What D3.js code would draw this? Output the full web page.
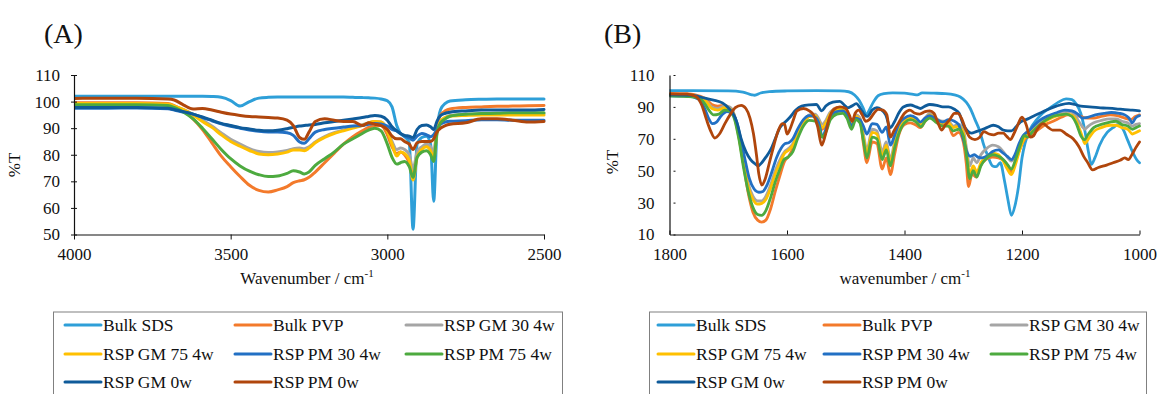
<!DOCTYPE html>
<html>
<head>
<meta charset="utf-8">
<script src="https://cdn.jsdelivr.net/npm/d3@7"></script>
<style>
  body { margin: 0; background: #fff; }
  svg { display: block; font-family: "Liberation Serif", "Times New Roman", serif; }
</style>
</head>
<body>
<svg id="chart" width="1158" height="394"></svg>
<script>
// ---------- series labels and colours ----------
const seriesNames = ["Bulk SDS", "Bulk PVP", "RSP GM 30 4w", "RSP GM 75 4w",
                     "RSP PM 30 4w", "RSP PM 75 4w", "RSP GM 0w", "RSP PM 0w"];
const seriesColors = ["#2E9FD8", "#F37A2B", "#A5A5A5", "#FFC000",
                      "#2270C4", "#4DAA3F", "#0F5B9A", "#B0460C"];

// ---------- panel A: 4000–2500 cm-1 (shared wavenumber grid) ----------
const wnA = [4000, 3900, 3800, 3700, 3680, 3650, 3620, 3590, 3560, 3530,
             3500, 3470, 3440, 3410, 3380, 3350, 3320, 3300, 3280, 3265,
             3250, 3230, 3200, 3170, 3140, 3110, 3080, 3060, 3040, 3020,
             3000, 2985, 2970, 2958, 2945, 2930, 2918, 2905, 2890, 2875,
             2862, 2852, 2842, 2830, 2815, 2800, 2750, 2700, 2650, 2600,
             2550, 2500];
const sdsA  = [102, 102, 102, 102, 102, 102, 102, 102, 101.9, 101.6,
               100.4, 98.3, 100, 101.3, 101.6, 101.7, 101.7, 101.7, 101.7, 101.7,
               101.7, 101.7, 101.7, 101.7, 101.7, 101.6, 101.5, 101.4, 101.3, 101,
               100.3, 98, 91, 88, 86.8, 84.5, 52, 84, 86.5, 87,
               84, 62.5, 88, 97, 99.3, 100.2, 100.7, 100.9, 101, 101,
               101, 101];
const pvpA  = [99.6, 99.6, 99.6, 99.3, 98.5, 96.5, 93.5, 89.5, 84.5, 79.5,
               75.5, 71.8, 68.5, 66.6, 66.0, 66.8, 68.0, 69.5, 70.2, 70.6,
               71.5, 73.5, 77.0, 80.5, 84.0, 86.8, 89.0, 90.3, 91.0, 91.0,
               87.5, 83.0, 80.5, 81.0, 80.0, 77.0, 73.0, 80.0, 82.5, 83.5,
               82.5, 80.0, 90.0, 95.0, 96.5, 97.2, 97.8, 98.0, 98.2, 98.3,
               98.4, 98.5];
const gm30A = [99.0, 99.0, 99.0, 98.8, 98.2, 97.0, 95.2, 93.0, 90.8, 88.2,
               85.8, 84.0, 82.3, 81.2, 80.8, 81.0, 81.6, 82.3, 82.5, 82.3,
               83.0, 84.8, 86.8, 88.3, 89.3, 90.3, 91.2, 92.0, 92.5, 92.3,
               89.5, 85.0, 82.0, 82.5, 82.0, 80.0, 74.5, 81.0, 83.0, 84.0,
               83.0, 81.0, 88.5, 92.5, 94.0, 94.8, 95.2, 95.4, 95.5, 95.5,
               95.5, 95.5];
const gm75A = [99.3, 99.3, 99.3, 99.0, 98.3, 97.0, 95.0, 92.5, 90.3, 87.5,
               85.0, 83.2, 81.6, 80.3, 80.0, 80.3, 81.0, 81.8, 81.8, 81.5,
               82.5, 84.5, 86.5, 88.0, 89.0, 90.0, 91.0, 92.0, 92.5, 92.3,
               89.0, 84.0, 79.5, 81.0, 80.5, 78.0, 70.5, 79.0, 82.0, 83.0,
               81.5, 78.5, 88.0, 92.5, 94.0, 94.5, 94.8, 95.0, 95.0, 95.0,
               95.0, 95.0];
const pm30A = [97.5, 97.5, 97.6, 97.3, 96.8, 96.0, 95.3, 94.0, 92.8, 91.6,
               90.7, 90.0, 89.3, 88.8, 88.6, 88.6, 88.3, 87.3, 84.8, 84.3,
               86.0, 88.5, 89.5, 90.0, 90.4, 90.8, 91.0, 91.5, 91.8, 91.6,
               90.8, 89.5, 89.0, 88.0, 87.0, 86.3, 85.5, 87.0, 88.0, 87.5,
               86.8, 87.5, 89.5, 91.5, 92.3, 92.6, 92.8, 93.2, 93.2, 93.0,
               93.0, 93.0];
const pm75A = [98.8, 98.8, 98.8, 98.5, 97.8, 96.0, 93.5, 90.0, 86.0, 82.0,
               78.5, 75.8, 73.8, 72.5, 71.8, 72.0, 73.0, 74.0, 73.5, 72.8,
               73.5, 76.0, 78.5, 81.0, 84.0, 86.0, 88.0, 89.3, 90.0, 89.0,
               84.0, 79.0, 76.5, 77.0, 77.5, 75.5, 71.5, 79.0, 81.0, 81.5,
               80.0, 77.5, 88.0, 92.0, 93.5, 94.5, 95.2, 95.5, 95.6, 95.8,
               95.8, 95.8];
const gm0A  = [97.8, 97.8, 97.8, 97.5, 97.0, 96.2, 95.3, 94.2, 93.0, 91.8,
               91.0, 90.2, 89.7, 89.2, 89.0, 89.2, 89.8, 90.3, 90.8, 91.0,
               91.2, 91.4, 92.0, 92.5, 93.0, 93.5, 94.0, 94.4, 94.8, 94.5,
               93.0, 90.5, 89.0, 88.0, 87.3, 87.0, 86.5, 89.5, 91.0, 91.2,
               90.5, 89.5, 92.5, 94.8, 95.6, 96.0, 96.5, 96.8, 96.8, 96.8,
               96.8, 97.0];
const pm0A  = [101.2, 101.3, 101.3, 101.0, 100.6, 98.7, 97.2, 97.4, 96.8, 96.0,
               95.3, 94.8, 94.4, 94.2, 94.0, 93.8, 93.0, 91.0, 86.5, 85.8,
               88.5, 92.5, 93.5, 93.0, 92.5, 92.5, 91.0, 92.0, 91.5, 91.0,
               89.5, 87.0, 86.0, 86.0, 85.0, 84.0, 82.0, 84.5, 85.0, 85.0,
               85.0, 86.0, 88.5, 90.0, 91.0, 91.5, 92.0, 93.5, 93.5, 93.0,
               92.3, 92.5];
const ticksAX = [4000, 3500, 3000, 2500];
const ticksAY = [50, 60, 70, 80, 90, 100, 110];

// ---------- panel B: 1800–1000 cm-1 ([wavenumber, %T] pairs) ----------
const sdsB = [[1800,100.2],[1760,100.2],[1700,100],[1675,99.3],[1660,97.6],[1655,97.3],[1645,98.7],[1630,99.6],
  [1600,100],[1550,100.2],[1510,100],[1495,99.5],[1485,97.5],[1477,94],[1470,89],[1465,85],[1460,88],[1453,93],
  [1445,97],[1435,98.3],[1420,98.8],[1400,98.6],[1385,97.8],[1378,97.5],[1370,98.8],[1350,98.6],[1330,98.3],
  [1315,97.5],[1305,96.2],[1295,93],[1288,89],[1280,82],[1272,75],[1265,66],[1258,59],[1250,53],[1244,52.5],
  [1237,55],[1230,44],[1224,32],[1218,22],[1212,28],[1206,40],[1200,58],[1195,67],[1186,76],[1175,82],[1165,86],
  [1150,90],[1138,93],[1125,95],[1115,94.5],[1108,92],[1100,86],[1093,75],[1087,62],[1082,54],[1076,58],[1068,66],
  [1055,74],[1045,77],[1036,79],[1028,76],[1020,69],[1012,62],[1005,57],[1000,55]];
const pvpB = [[1800,98.5],[1770,98.3],[1750,97],[1738,95],[1728,91.5],[1718,90.5],[1706,91],[1698,89.5],[1690,85],
  [1682,72],[1674,54],[1666,36],[1658,24],[1650,19],[1643,17.8],[1636,19],[1628,26],[1620,37],[1612,47],[1604,56],
  [1597,59],[1590,64],[1582,72],[1572,80],[1562,84],[1552,84.5],[1546,81],[1540,76],[1534,79],[1526,86],[1515,89.5],
  [1505,89.5],[1498,87],[1490,79],[1483,85],[1476,83],[1470,67],[1464,55],[1455,68],[1447,67],[1438,51],[1431,58],
  [1424,47.5],[1417,60],[1410,72],[1400,79],[1390,80],[1380,78.5],[1373,77],[1365,81],[1357,84],[1345,80.5],
  [1335,79],[1325,78],[1317,72],[1308,74],[1300,68],[1295,55],[1291,40],[1285,48],[1278,46],[1272,52],[1262,57],
  [1250,58.5],[1240,58],[1230,56],[1224,53],[1218,49],[1211,56],[1203,64],[1195,70],[1185,72],[1175,75],[1160,79],
  [1147,81],[1133,83.5],[1122,85],[1110,84.5],[1100,84],[1090,83],[1078,83],[1065,84],[1050,85],[1038,84.5],
  [1025,83],[1015,82],[1007,84],[1000,85]];
const gm30B = [[1800,97.8],[1770,97.5],[1750,96.5],[1738,94],[1728,90],[1718,89],[1706,90.5],[1698,90],[1690,85.5],
  [1682,72],[1674,56],[1666,42],[1658,34],[1650,31],[1643,31],[1636,34],[1628,41],[1620,50],[1612,57],[1604,62],
  [1597,64],[1590,67],[1582,74],[1572,81],[1562,85],[1552,85.5],[1546,82.5],[1540,79],[1534,81.5],[1526,87],
  [1515,89],[1505,89],[1498,86.5],[1490,80],[1483,85],[1476,83],[1470,73],[1464,63],[1455,76],[1447,75],[1438,62],
  [1431,68],[1424,57],[1417,68],[1410,77],[1400,82],[1390,84],[1380,82.5],[1373,80],[1365,83],[1357,86],[1345,82.5],
  [1335,81],[1325,81],[1317,78],[1308,79],[1300,76],[1294,63],[1289,53],[1283,58],[1277,55],[1270,60],[1260,64],
  [1250,66],[1240,65],[1232,62],[1225,58.5],[1218,56],[1211,60],[1203,67],[1195,73],[1185,76],[1175,79],[1160,82.5],
  [1147,85],[1133,86.5],[1122,87],[1112,86],[1105,82],[1098,78],[1093,76],[1087,78],[1078,80],[1065,81.5],
  [1050,82.5],[1040,82.5],[1030,81],[1020,80],[1012,78],[1006,79],[1000,79.5]];
const gm75B = [[1800,97.5],[1770,97.3],[1750,96],[1738,93.5],[1728,89],[1718,88],[1706,89.5],[1698,89],[1690,84.5],
  [1682,71],[1674,54],[1666,40],[1658,32],[1650,29],[1643,29.5],[1636,32],[1628,39],[1620,48],[1612,55],[1604,61],
  [1597,63],[1590,66],[1582,73],[1572,80],[1562,84],[1552,84.5],[1546,81],[1540,77],[1534,80],[1526,86],[1515,88.5],
  [1505,88.5],[1498,86],[1490,79],[1483,84],[1476,82],[1470,71],[1464,61],[1455,74],[1447,73],[1438,59],[1431,66],
  [1424,55],[1417,66],[1410,75],[1400,81],[1390,83],[1380,81.5],[1373,79],[1365,82],[1357,85],[1345,81.5],[1335,80],
  [1325,80],[1317,77],[1308,78],[1300,74],[1294,60],[1289,48],[1283,53],[1277,49],[1270,55],[1260,59],[1250,61],
  [1240,60],[1232,56],[1225,51],[1218,47.5],[1211,54],[1203,64],[1195,71],[1185,74],[1175,77],[1160,81],[1147,83.5],
  [1133,85],[1122,85.5],[1112,84],[1105,79],[1098,72],[1093,67],[1087,70],[1078,74.5],[1065,77],[1050,78.5],
  [1040,78.5],[1030,77],[1020,76],[1012,73],[1006,74],[1000,75]];
const pm30B = [[1800,97],[1770,96.8],[1750,94.8],[1740,89],[1733,82.5],[1727,79.5],[1720,80.5],[1712,84.5],[1702,87],
  [1695,86],[1688,83],[1680,72],[1672,58],[1664,45],[1656,38.5],[1648,36.5],[1641,37],[1634,41],[1626,49],[1618,58],
  [1610,64],[1603,67],[1597,67.5],[1590,70],[1582,76],[1572,82],[1562,84.5],[1552,83.5],[1545,79],[1540,71],[1534,76],
  [1526,84],[1515,87],[1505,87.5],[1498,85],[1490,78],[1483,83],[1476,82],[1470,78],[1464,73],[1455,79.5],[1447,79],
  [1438,74],[1431,77.5],[1424,66],[1417,72],[1410,79],[1400,83],[1390,84.5],[1380,83],[1373,80.5],[1365,83],
  [1357,84.5],[1345,82],[1335,80.5],[1325,82],[1315,81],[1308,79],[1300,70],[1294,62],[1288,59],[1281,60],[1275,58.5],
  [1268,58],[1260,59],[1250,62],[1240,63],[1232,61],[1225,59],[1218,57],[1212,60],[1205,67],[1198,72],[1188,75],
  [1178,79],[1168,82],[1155,84.5],[1140,86.5],[1127,88],[1115,87.5],[1105,85.5],[1097,83],[1088,83.5],[1075,85],
  [1060,86],[1048,86.5],[1035,86],[1025,85],[1018,83],[1012,80],[1007,83],[1000,84.5]];
const pm75B = [[1800,97],[1770,96.5],[1750,95.5],[1740,92],[1732,87.5],[1725,85],[1716,85.5],[1706,88],[1698,87.5],
  [1690,83],[1682,70],[1674,52],[1666,37],[1658,27],[1650,22.5],[1643,22],[1636,25],[1628,33],[1620,43],[1612,51],
  [1605,57],[1598,58.5],[1590,62],[1582,70],[1572,78],[1562,81.5],[1552,81],[1546,77],[1540,71],[1534,74],[1526,82],
  [1515,85.5],[1505,86],[1498,83],[1490,76],[1483,82],[1476,80],[1470,69],[1464,58],[1455,71],[1447,70],[1438,57],
  [1431,63],[1424,53],[1417,64],[1410,73],[1400,80],[1390,82],[1380,80.5],[1372,77.5],[1365,81],[1357,83],[1345,80],
  [1335,78],[1325,78],[1317,75],[1308,76],[1300,72],[1294,58],[1289,45],[1283,50],[1277,46],[1270,53],[1260,58],
  [1250,60],[1240,59],[1232,57],[1225,54],[1218,51],[1211,57],[1203,66],[1196,72],[1190,71],[1183,74],[1172,78],
  [1160,81.5],[1148,84],[1135,85],[1125,85.5],[1115,84],[1107,79],[1100,72],[1094,69.5],[1087,73],[1078,77],
  [1065,79],[1050,80.5],[1040,81],[1030,79],[1020,78],[1012,76],[1006,77],[1000,78]];
const gm0B = [[1800,97.5],[1760,97.2],[1740,95.5],[1725,94.3],[1710,92.5],[1700,89.5],[1692,86],[1685,80],[1678,70],
  [1670,62],[1662,57],[1655,54.5],[1649,53],[1643,55],[1636,58.5],[1628,63],[1620,70],[1612,77],[1603,80.5],
  [1595,83.5],[1585,88],[1575,90.5],[1562,91.3],[1550,91.5],[1541,87.5],[1534,90.5],[1522,93],[1510,93.5],[1502,91],
  [1497,89.5],[1490,90.5],[1482,92],[1475,89],[1468,85],[1463,84],[1455,88],[1447,89.5],[1440,88.5],[1432,85],
  [1424,77],[1418,80],[1410,86],[1402,90],[1390,91.2],[1380,90],[1373,89],[1365,90.5],[1357,91.5],[1345,91],
  [1335,90],[1325,90],[1315,88.5],[1307,86],[1300,79],[1293,75],[1286,73.5],[1278,74.5],[1270,75.5],[1260,77],
  [1249,78.5],[1240,77.5],[1232,75.5],[1224,75],[1218,75],[1210,77.5],[1203,80.5],[1190,82.5],[1180,84.3],[1170,86],
  [1158,88],[1145,90],[1135,91.2],[1120,92.2],[1110,91.5],[1100,90.5],[1085,90],[1070,89.5],[1056,89.2],[1040,88.8],
  [1025,88.3],[1012,88],[1000,87.5]];
const pm0B = [[1800,98.2],[1770,98],[1755,96.5],[1745,91],[1737,82],[1730,75],[1723,70.5],[1715,73],[1705,80],
  [1697,85],[1688,89.5],[1678,91],[1670,89],[1663,83],[1657,73],[1652,60],[1648,48],[1643,41],[1637,45],[1630,55],
  [1623,65],[1615,75],[1608,79.5],[1604,79],[1600,73],[1595,76],[1590,81],[1583,87.5],[1572,89],[1562,87.5],
  [1555,85],[1548,78],[1541,66],[1535,72],[1528,83],[1520,88.5],[1510,90],[1500,89],[1494,85],[1489,81],[1484,86],
  [1478,88],[1472,85],[1466,81],[1460,82],[1452,86],[1445,88.5],[1437,88],[1430,85],[1424,71],[1418,75],[1410,80],
  [1400,86],[1391,88],[1382,86],[1374,85.5],[1365,87],[1357,87.5],[1350,86],[1343,80],[1337,75.5],[1330,79],
  [1323,82],[1315,86],[1309,86],[1302,82],[1296,76],[1289,71],[1280,69.5],[1272,71],[1265,74.5],[1256,73],
  [1248,72.5],[1240,73.5],[1232,73.5],[1226,71.5],[1220,69.5],[1214,73],[1208,78],[1200,83.5],[1193,79],[1186,71],
  [1180,72],[1175,75.5],[1164,79.5],[1155,77],[1148,75.5],[1135,75.5],[1125,73],[1113,70],[1103,65],[1095,59],
  [1088,55],[1080,50.5],[1070,52],[1056,53.5],[1045,55],[1033,56.5],[1025,58],[1019,57],[1013,60],[1007,64],[1000,68]];
const ticksBX = [1800, 1600, 1400, 1200, 1000];
const ticksBY = [10, 30, 50, 70, 90, 110];

// ---------- drawing ----------
const svg = d3.select("#chart");
svg.append("rect").attr("width", 1158).attr("height", 394).attr("fill", "#fff");

function drawPanel(cfg) {
  const x = d3.scaleLinear().domain(cfg.xDomain).range([cfg.left, cfg.right]);
  const y = d3.scaleLinear().domain(cfg.yDomain).range([cfg.bottom, cfg.top]);
  const g = svg.append("g");

  // plotted spectra
  const clipId = "clip-" + cfg.id;
  svg.append("clipPath").attr("id", clipId).append("rect")
    .attr("x", cfg.left).attr("y", cfg.top - 4)
    .attr("width", cfg.right - cfg.left + 2).attr("height", cfg.bottom - cfg.top + 4);
  const line = d3.line()
    .x(d => x(d[0])).y(d => y(d[1]))
    .curve(d3.curveMonotoneX);
  const lines = g.append("g").attr("clip-path", `url(#${clipId})`);
  cfg.series.forEach((pts, i) => {
    lines.append("path")
      .datum(pts)
      .attr("d", line)
      .attr("fill", "none")
      .attr("stroke", seriesColors[i])
      .attr("stroke-width", cfg.lineWidth)
      .attr("stroke-linejoin", "round")
      .attr("stroke-linecap", "round");
  });

  // axes
  const inner = cfg.innerTicks;
  const yAxis = d3.axisLeft(y).tickValues(cfg.yTicks)
    .tickSizeInner(inner ? -3 : 3).tickSizeOuter(0).tickPadding(inner ? 15 : 11);
  const xAxis = d3.axisBottom(x).tickValues(cfg.xTicks).tickFormat(d3.format("d"))
    .tickSizeInner(inner ? -4 : 5).tickSizeOuter(0).tickPadding(inner ? 13.5 : 8.5);

  const gy = g.append("g").attr("transform", `translate(${cfg.left},0)`).call(yAxis);
  const gx = g.append("g").attr("transform", `translate(0,${cfg.bottom})`).call(xAxis);
  [gx, gy].forEach(a => {
    a.attr("font-family", null).attr("font-size", 17);
    a.selectAll("text").attr("fill", "#111");
    a.select(".domain").attr("stroke", "#111").attr("stroke-width", 1.2);
    a.selectAll(".tick line").attr("stroke", "#111");
  });
  if (!inner) gy.selectAll(".tick line").attr("x1", 3);
  if (inner) gy.selectAll(".tick line").attr("x1", 4).attr("x2", 6);

  // panel label and axis titles
  svg.append("text").attr("x", cfg.labelX).attr("y", 43)
    .attr("font-size", 28).attr("fill", "#111").text(cfg.label);
  svg.append("text")
    .attr("transform", `translate(${cfg.yTitleX},${cfg.yTitleY}) rotate(-90)`)
    .attr("text-anchor", "middle").attr("font-size", 17).attr("fill", "#111").text("%T");
  const xt = svg.append("text").attr("x", cfg.xTitleX).attr("y", 284)
    .attr("text-anchor", "middle").attr("font-size", 17).attr("fill", "#111");
  xt.append("tspan").text(cfg.xTitle);
  xt.append("tspan").attr("font-size", 11).attr("dy", -7).text("-1");

  // legend
  const lg = svg.append("g");
  lg.append("rect").attr("x", cfg.legendBox[0]).attr("y", cfg.legendBox[1])
    .attr("width", cfg.legendBox[2]).attr("height", cfg.legendBox[3])
    .attr("fill", "#fff").attr("stroke", "#808080").attr("stroke-width", 1);
  const rowY = [325, 354, 382];
  seriesNames.forEach((name, i) => {
    const cx = cfg.legendCols[i % 3], cy = rowY[Math.floor(i / 3)];
    lg.append("line").attr("x1", cx).attr("x2", cx + 36).attr("y1", cy).attr("y2", cy)
      .attr("stroke", seriesColors[i]).attr("stroke-width", 3).attr("stroke-linecap", "round");
    lg.append("text").attr("x", cx + 38).attr("y", cy).attr("dy", "0.35em")
      .attr("font-size", 17.5).attr("fill", "#111").text(name);
  });
}

const seriesA = [sdsA, pvpA, gm30A, gm75A, pm30A, pm75A, gm0A, pm0A]
  .map(vals => vals.map((v, k) => [wnA[k], v]));

drawPanel({
  id: "a", label: "(A)", labelX: 44,
  xDomain: [4000, 2500], yDomain: [50, 110],
  left: 74, right: 544, top: 75, bottom: 234.5,
  xTicks: ticksAX, yTicks: ticksAY, innerTicks: false,
  series: seriesA, lineWidth: 3,
  yTitleX: 20, yTitleY: 165, xTitleX: 307, xTitle: "Wavenumber / cm",
  legendBox: [53.5, 312, 509, 100], legendCols: [65, 235, 406]
});

drawPanel({
  id: "b", label: "(B)", labelX: 604,
  xDomain: [1800, 1000], yDomain: [10, 110],
  left: 669.5, right: 1139.5, top: 75, bottom: 234.5,
  xTicks: ticksBX, yTicks: ticksBY, innerTicks: true,
  series: [sdsB, pvpB, gm30B, gm75B, pm30B, pm75B, gm0B, pm0B], lineWidth: 2.8,
  yTitleX: 618, yTitleY: 162, xTitleX: 905, xTitle: "wavenumber / cm",
  legendBox: [649.5, 312, 497, 100], legendCols: [658, 824, 991]
});
</script>
</body>
</html>
